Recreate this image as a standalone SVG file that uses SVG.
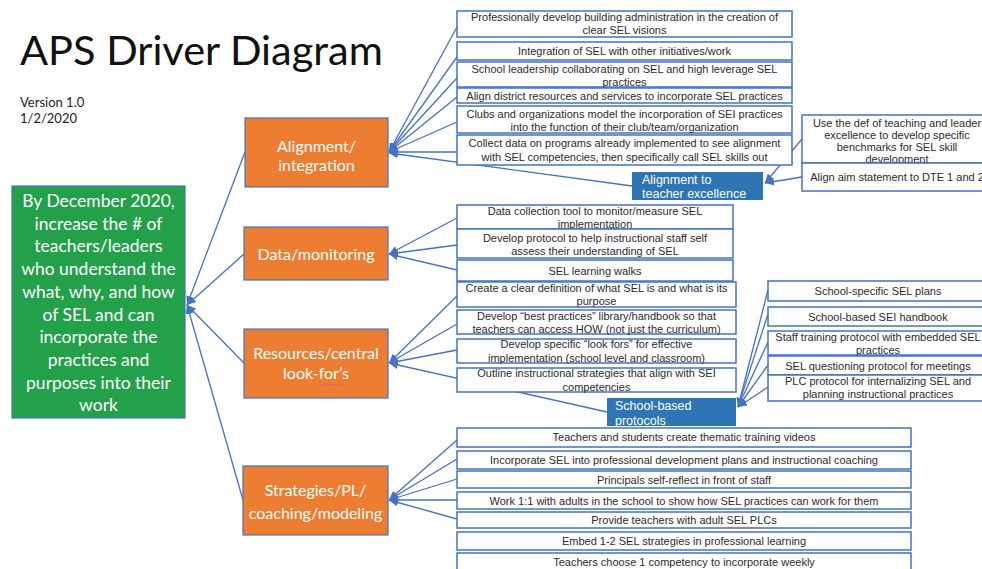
<svg xmlns="http://www.w3.org/2000/svg" width="982" height="569" viewBox="0 0 982 569">
<style>
.bg{fill:#fff}
.con line{stroke:#4472c4;stroke-width:1.3;fill:none}
.leaf{fill:#fff;stroke:#4472c4;stroke-width:1.5}
.lt{font-family:"Liberation Sans",Arial,sans-serif;font-size:11px;fill:#2b2b2b;text-anchor:middle}
.drv{fill:#ed7d31;stroke:#4472c4;stroke-width:1.2}
.dt{font-family:Lato,"Open Sans",sans-serif;font-size:16px;fill:#fff;text-anchor:middle}
.sub{fill:#2e75b6;stroke:none}
.st{font-family:"Liberation Sans",Arial,sans-serif;font-size:12.5px;fill:#fff}
.goal{fill:#22a04a;stroke:#4472c4;stroke-width:1.2}
.gt{font-family:Lato,"Open Sans",sans-serif;font-size:17.5px;fill:#fff;text-anchor:middle}
.sq{stroke:#e06080;stroke-width:1;fill:none}
</style>
<defs>
<marker id="ah" markerUnits="userSpaceOnUse" markerWidth="10" markerHeight="8" refX="9" refY="4" orient="auto">
<path d="M0,0 L9,4 L0,8 Z" fill="#4472c4"/>
</marker>
</defs>
<rect class="bg" x="0" y="0" width="982" height="569"/>
<g id="title">
<text x="20" y="65" font-family="Lato,'Open Sans',sans-serif" font-size="41.5" fill="#111">APS Driver Diagram</text>
<text x="20" y="107" font-family="Lato,'Open Sans',sans-serif" font-size="13" fill="#222">Version 1.0</text>
<text x="20" y="123" font-family="Lato,'Open Sans',sans-serif" font-size="13" fill="#222">1/2/2020</text>
</g>
<g id="connectors" class="con">
<line x1="245" y1="152" x2="187" y2="305" marker-end="url(#ah)"/>
<line x1="244" y1="254" x2="187" y2="305" marker-end="url(#ah)"/>
<line x1="244" y1="363" x2="187" y2="305" marker-end="url(#ah)"/>
<line x1="243" y1="500" x2="187" y2="305" marker-end="url(#ah)"/>
<line x1="457" y1="27" x2="389" y2="152" marker-end="url(#ah)"/>
<line x1="457" y1="57" x2="389" y2="152" marker-end="url(#ah)"/>
<line x1="457" y1="78" x2="389" y2="152" marker-end="url(#ah)"/>
<line x1="457" y1="97" x2="389" y2="152" marker-end="url(#ah)"/>
<line x1="457" y1="122" x2="389" y2="152" marker-end="url(#ah)"/>
<line x1="457" y1="152" x2="389" y2="152" marker-end="url(#ah)"/>
<line x1="632" y1="186" x2="389" y2="153" marker-end="url(#ah)"/>
<line x1="802" y1="139" x2="765" y2="183" marker-end="url(#ah)"/>
<line x1="802" y1="177" x2="765" y2="183" marker-end="url(#ah)"/>
<line x1="457" y1="218" x2="389" y2="254" marker-end="url(#ah)"/>
<line x1="457" y1="245" x2="389" y2="254" marker-end="url(#ah)"/>
<line x1="457" y1="270" x2="389" y2="254" marker-end="url(#ah)"/>
<line x1="457" y1="296" x2="389" y2="363" marker-end="url(#ah)"/>
<line x1="457" y1="324" x2="389" y2="363" marker-end="url(#ah)"/>
<line x1="457" y1="350" x2="389" y2="363" marker-end="url(#ah)"/>
<line x1="607" y1="412" x2="389" y2="363" marker-end="url(#ah)"/>
<line x1="768" y1="290" x2="738" y2="407" marker-end="url(#ah)"/>
<line x1="768" y1="314" x2="738" y2="407" marker-end="url(#ah)"/>
<line x1="768" y1="342" x2="738" y2="407" marker-end="url(#ah)"/>
<line x1="768" y1="365" x2="738" y2="407" marker-end="url(#ah)"/>
<line x1="768" y1="387" x2="738" y2="407" marker-end="url(#ah)"/>
<line x1="457" y1="440" x2="389" y2="500" marker-end="url(#ah)"/>
<line x1="457" y1="459" x2="389" y2="500" marker-end="url(#ah)"/>
<line x1="457" y1="479" x2="389" y2="500" marker-end="url(#ah)"/>
<line x1="457" y1="500" x2="389" y2="500" marker-end="url(#ah)"/>
<line x1="457" y1="519" x2="389" y2="500" marker-end="url(#ah)"/>
</g>
<g id="goal">
<rect class="goal" x="12" y="186" width="173" height="232"/>
<text class="gt" x="98.5" y="207">By December 2020,</text>
<text class="gt" x="98.5" y="230">increase the # of</text>
<text class="gt" x="98.5" y="252">teachers/leaders</text>
<text class="gt" x="98.5" y="275">who understand the</text>
<text class="gt" x="98.5" y="298">what, why, and how</text>
<text class="gt" x="98.5" y="321">of SEL and can</text>
<text class="gt" x="98.5" y="343">incorporate the</text>
<text class="gt" x="98.5" y="366">practices and</text>
<text class="gt" x="98.5" y="389">purposes into their</text>
<text class="gt" x="98.5" y="411">work</text>
</g>
<g id="d-alignment">
<rect class="drv" x="245" y="118" width="143" height="69"/>
<text class="dt" x="316.5" y="152">Alignment/</text>
<text class="dt" x="316.5" y="171">integration</text>
</g>
<g id="d-data">
<rect class="drv" x="244" y="227" width="144" height="53"/>
<text class="dt" x="316" y="260">Data/monitoring</text>
</g>
<g id="d-resources">
<rect class="drv" x="244" y="329" width="144" height="69"/>
<text class="dt" x="316" y="359">Resources/central</text>
<text class="dt" x="316" y="379">look-for’s</text>
<path class="sq" d="M321,384 l2,1.5 l2,-1.5 l2,1.5 l2,-1.5 l2,1.5 l2,-1.5 l2,1.5 l2,-1.5 l2,1.5 l2,-1.5"/>
</g>
<g id="d-strategies">
<rect class="drv" x="243" y="466" width="145" height="69"/>
<text class="dt" x="315.5" y="496">Strategies/PL/</text>
<text class="dt" x="315.5" y="519">coaching/modeling</text>
</g>
<g id="a1"><rect class="leaf" x="457" y="11" width="335" height="26"/>
<text class="lt" x="624.5" y="21">Professionally develop building administration in the creation of</text>
<text class="lt" x="624.5" y="34">clear SEL visions</text></g>
<g id="a2"><rect class="leaf" x="457" y="42" width="335" height="18"/>
<text class="lt" x="624.5" y="55">Integration of SEL with other initiatives/work</text></g>
<g id="a3"><rect class="leaf" x="457" y="62" width="335" height="25"/>
<text class="lt" x="624.5" y="73">School leadership collaborating on SEL and high leverage SEL</text>
<text class="lt" x="624.5" y="86">practices</text></g>
<g id="a4"><rect class="leaf" x="457" y="88" width="335" height="15"/>
<text class="lt" x="624.5" y="100">Align district resources and services to incorporate SEL practices</text></g>
<g id="a5"><rect class="leaf" x="457" y="106" width="335" height="27"/>
<text class="lt" x="624.5" y="118">Clubs and organizations model the incorporation of SEI practices</text>
<text class="lt" x="624.5" y="131">into the function of their club/team/organization</text></g>
<g id="a6"><rect class="leaf" x="457" y="135" width="335" height="30"/>
<text class="lt" x="624.5" y="147">Collect data on programs already implemented to see alignment</text>
<text class="lt" x="624.5" y="161">with SEL competencies, then specifically call SEL skills out</text></g>
<g id="s-teacher">
<rect class="sub" x="632" y="172" width="131" height="28"/>
<text class="st" x="642" y="184">Alignment to</text>
<text class="st" x="642" y="198">teacher excellence</text>
</g>
<g id="t1"><rect class="leaf" x="802" y="115" width="190" height="48"/>
<text class="lt" x="897" y="127">Use the def of teaching and leader</text>
<text class="lt" x="897" y="139">excellence to develop specific</text>
<text class="lt" x="897" y="151">benchmarks for SEL skill</text>
<text class="lt" x="897" y="163">development</text></g>
<g id="t2"><rect class="leaf" x="802" y="163" width="190" height="28"/>
<text class="lt" x="897" y="181">Align aim statement to DTE 1 and 2</text></g>
<g id="m1"><rect class="leaf" x="457" y="205" width="276" height="24"/>
<text class="lt" x="595" y="215">Data collection tool to monitor/measure SEL</text>
<text class="lt" x="595" y="228">implementation</text></g>
<g id="m2"><rect class="leaf" x="457" y="229" width="276" height="29"/>
<text class="lt" x="595" y="242">Develop protocol to help instructional staff self</text>
<text class="lt" x="595" y="255">assess their understanding of SEL</text></g>
<g id="m3"><rect class="leaf" x="457" y="260" width="276" height="21"/>
<text class="lt" x="595" y="275">SEL learning walks</text></g>
<g id="r1"><rect class="leaf" x="457" y="282" width="279" height="25"/>
<text class="lt" x="596.5" y="292">Create a clear definition of what SEL is and what is its</text>
<text class="lt" x="596.5" y="305">purpose</text></g>
<g id="r2"><rect class="leaf" x="457" y="310" width="279" height="24"/>
<text class="lt" x="596.5" y="320">Develop “best practices” library/handbook so that</text>
<text class="lt" x="596.5" y="333">teachers can access HOW (not just the curriculum)</text></g>
<g id="r3"><rect class="leaf" x="457" y="339" width="279" height="24"/>
<text class="lt" x="596.5" y="348">Develop specific “look fors” for effective</text>
<text class="lt" x="596.5" y="362">implementation (school level and classroom)</text></g>
<g id="r4"><rect class="leaf" x="457" y="368" width="279" height="24"/>
<text class="lt" x="596.5" y="377">Outline instructional strategies that align with SEI</text>
<text class="lt" x="596.5" y="391">competencies</text></g>
<g id="s-school">
<rect class="sub" x="607" y="398" width="129" height="28"/>
<text class="st" x="615" y="410">School-based</text>
<text class="st" x="615" y="425">protocols</text>
</g>
<g id="p1"><rect class="leaf" x="768" y="281" width="220" height="20"/>
<text class="lt" x="878" y="295">School-specific SEL plans</text></g>
<g id="p2"><rect class="leaf" x="768" y="307" width="220" height="19"/>
<text class="lt" x="878" y="321">School-based SEI handbook</text></g>
<g id="p3"><rect class="leaf" x="768" y="331" width="220" height="24"/>
<text class="lt" x="878" y="341">Staff training protocol with embedded SEL</text>
<text class="lt" x="878" y="354">practices</text></g>
<g id="p4"><rect class="leaf" x="768" y="356" width="220" height="19"/>
<text class="lt" x="878" y="370">SEL questioning protocol for meetings</text>
<path class="sq" d="M781,374 l2,1.2 l2,-1.2 l2,1.2 l2,-1.2 l2,1.2 l2,-1.2 l2,1.2 l2,-1.2 l2,1.2 l2,-1.2"/></g>
<g id="p5"><rect class="leaf" x="768" y="375" width="220" height="26"/>
<text class="lt" x="878" y="385">PLC protocol for internalizing SEL and</text>
<text class="lt" x="878" y="398">planning instructional practices</text></g>
<g id="c1"><rect class="leaf" x="457" y="428" width="454" height="19"/>
<text class="lt" x="684" y="441">Teachers and students create thematic training videos</text></g>
<g id="c2"><rect class="leaf" x="457" y="451" width="454" height="18"/>
<text class="lt" x="684" y="464">Incorporate SEL into professional development plans and instructional coaching</text></g>
<g id="c3"><rect class="leaf" x="457" y="471" width="454" height="17"/>
<text class="lt" x="684" y="484">Principals self-reflect in front of staff</text></g>
<g id="c4"><rect class="leaf" x="457" y="492" width="454" height="17"/>
<text class="lt" x="684" y="505">Work 1:1 with adults in the school to show how SEL practices can work for them</text></g>
<g id="c5"><rect class="leaf" x="457" y="512" width="454" height="16"/>
<text class="lt" x="684" y="524">Provide teachers with adult SEL PLCs</text>
<path class="sq" d="M728,527 l2,1.2 l2,-1.2 l2,1.2 l2,-1.2 l2,1.2 l2,-1.2 l2,1.2 l2,-1.2 l2,1.2 l2,-1.2 l2,1.2 l2,-1.2 l2,1.2 l2,-1.2 l2,1.2 l2,-1.2"/></g>
<g id="c6"><rect class="leaf" x="457" y="532" width="454" height="18"/>
<text class="lt" x="684" y="545">Embed 1-2 SEL strategies in professional learning</text></g>
<g id="c7"><rect class="leaf" x="457" y="553" width="454" height="20"/>
<text class="lt" x="684" y="566">Teachers choose 1 competency to incorporate weekly</text></g>
</svg>
